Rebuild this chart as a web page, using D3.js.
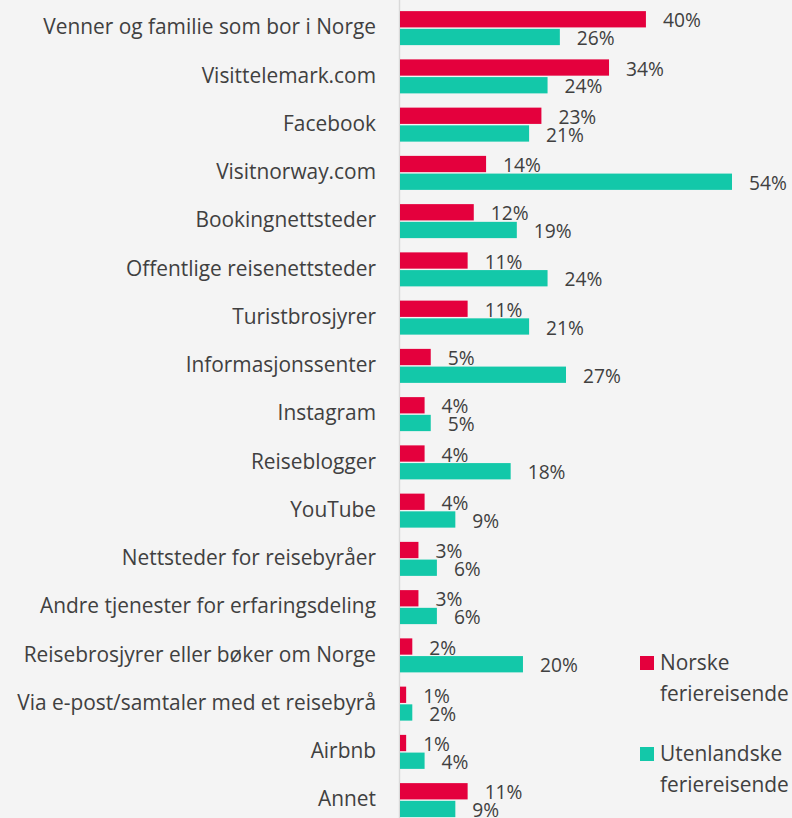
<!DOCTYPE html>
<html>
<head>
<meta charset="utf-8">
<script src="https://cdn.jsdelivr.net/npm/d3@7"></script>
<style>
  html, body { margin: 0; padding: 0; background: #f4f4f4; }
  svg { display: block; }
  text { font-family: 'Open Sans', sans-serif; fill: #404040; }
</style>
</head>
<body>
<div id="graf"></div>
<script>
// I. Data
const kategorier = ['Venner og familie som bor i Norge', 'Visittelemark.com', 'Facebook',
  'Visitnorway.com', 'Bookingnettsteder', 'Offentlige reisenettsteder', 'Turistbrosjyrer',
  'Informasjonssenter', 'Instagram', 'Reiseblogger', 'YouTube', 'Nettsteder for reisebyråer',
  'Andre tjenester for erfaringsdeling', 'Reisebrosjyrer eller bøker om Norge',
  'Via e-post/samtaler med et reisebyrå', 'Airbnb', 'Annet']
const norske = [40, 34, 23, 14, 12, 11, 11, 5, 4, 4, 4, 3, 3, 2, 1, 1, 11]
const utenlandske = [26, 24, 21, 54, 19, 24, 21, 27, 5, 18, 9, 6, 6, 20, 2, 4, 9]
const serier = ['Norske feriereisende', 'Utenlandske feriereisende']
const farger = ['#e4003d', '#13c8a9']

// II. Oppsett
const ancho_total = 792
const alto_total = 818

const svg = d3.select('#graf').append('svg')
  .attr('width', ancho_total)
  .attr('height', alto_total)

svg.append('rect')
  .attr('width', ancho_total).attr('height', alto_total)
  .attr('fill', '#f4f4f4')

// finn skriftstørrelse slik at den lengste etiketten blir ca. 333px bred
const maal = svg.append('text').attr('font-size', 20).text(kategorier[0])
const fs = Math.min(21, 20 * 333 / maal.node().getComputedTextLength())
maal.remove()
// verdietikettene er litt mindre
const fsVerdi = fs * 0.92

// skalaer
const x = d3.scaleLinear()
  .domain([0, 54])
  .range([400, 732])

const y = d3.scaleBand()
  .domain(kategorier)
  .range([4, 4 + 17 * 48.25])

const yIndre = d3.scaleBand()
  .domain(serier)
  .range([y.bandwidth() / 2 - 17, y.bandwidth() / 2 + 17])
  .paddingInner(0.08)

const farge = d3.scaleOrdinal().domain(serier).range(farger)

const rader = kategorier.map((k, i) => ({
  kategori: k,
  verdier: [
    { serie: serier[0], v: norske[i] },
    { serie: serier[1], v: utenlandske[i] }
  ]
}))

// aksen (bare linja)
svg.append('line')
  .attr('x1', x(0) - 0.5).attr('x2', x(0) - 0.5)
  .attr('y1', 0).attr('y2', alto_total)
  .attr('stroke', '#d9d9d9')
  .attr('stroke-width', 1.5)

// kategorietiketter
const yAxis = d3.axisLeft(y).tickSize(0).tickPadding(24)
const yAxisGroup = svg.append('g')
  .attr('transform', `translate(${x(0)},0)`)
  .call(yAxis)
  .attr('font-family', null)
  .attr('font-size', fs)
yAxisGroup.select('.domain').remove()
yAxisGroup.selectAll('text')
  .attr('dy', '0.3em')

// III. Søyler
const grupper = svg.selectAll('g.gruppe')
  .data(rader)
  .enter().append('g')
  .attr('class', 'gruppe')
  .attr('transform', d => `translate(0,${y(d.kategori)})`)

grupper.selectAll('rect')
  .data(d => d.verdier)
  .enter().append('rect')
  .attr('x', x(0))
  .attr('y', d => yIndre(d.serie))
  .attr('width', d => x(d.v) - x(0))
  .attr('height', yIndre.bandwidth())
  .attr('fill', d => farge(d.serie))

grupper.selectAll('text.verdi')
  .data(d => d.verdier)
  .enter().append('text')
  .attr('class', 'verdi')
  .attr('font-size', fsVerdi)
  .attr('x', d => x(d.v) + 17)
  .attr('y', d => yIndre(d.serie) + yIndre.bandwidth() / 2 + 1.5)
  .attr('dy', '0.35em')
  .text(d => d.v + '%')

// IV. Legende
const legende = svg.selectAll('g.legende')
  .data(serier)
  .enter().append('g')
  .attr('class', 'legende')
  .attr('transform', (d, i) => `translate(640,${656 + i * 91})`)

legende.append('rect')
  .attr('width', 14).attr('height', 14)
  .attr('fill', d => farge(d))

legende.append('text')
  .attr('font-size', fs)
  .attr('x', 20)
  .attr('y', 7)
  .selectAll('tspan')
  .data(d => d.split(' '))
  .enter().append('tspan')
  .attr('x', 20)
  .attr('dy', (d, i) => i === 0 ? '0.35em' : '31px')
  .text(d => d)
</script>
</body>
</html>
